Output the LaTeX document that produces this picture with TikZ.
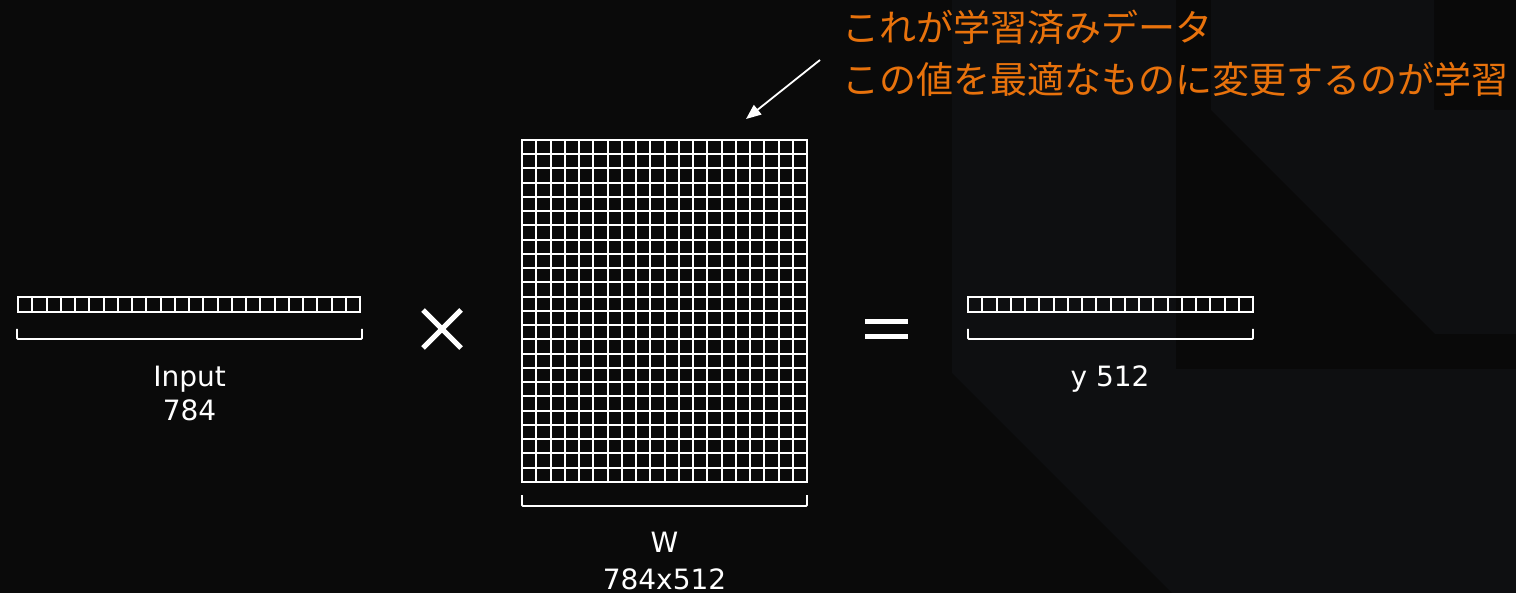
\documentclass[tikz,border=0pt]{standalone}
\usepackage{fontspec}
\setmainfont{DejaVu Sans}
\newfontfamily\jpfont{Noto Sans CJK JP}
\usetikzlibrary{arrows.meta}
\definecolor{bgbase}{HTML}{0A0A0A}
\definecolor{bglight}{HTML}{0E0F11}
\definecolor{bgdark}{HTML}{090909}
\definecolor{accent}{HTML}{E8720C}
\begin{document}
\begin{tikzpicture}[x=1pt,y=-1pt,
  cellline/.style={white, line width=2pt},
  bar/.style={draw=white, line width=2pt, inner sep=0pt},
  bracketline/.style={white, line width=1.8pt, rounded corners=1pt},
  lbl/.style={text=white, font=\fontsize{28}{34}\selectfont, inner sep=0pt, anchor=base},
  note/.style={text=accent, font=\jpfont\fontsize{37}{44}\selectfont, inner sep=0pt, anchor=base west},
  op/.style={white, line width=5pt},
]
\useasboundingbox (0,0) rectangle (1516,593);
% background
\fill[bgbase] (0,0) rectangle (1516,593);
\fill[bglight] (952,0) -- (1516,0) -- (1516,593) -- (1172,593) -- (952,373) -- cycle;
\fill[bgdark] (1176,0) rectangle (1516,369);
\fill[bglight] (1211,0) -- (1434,0) -- (1434,110) -- (1516,110) -- (1516,334) -- (1435,334) -- (1211,110) -- cycle;

% input vector
\node[bar, minimum width=342pt, minimum height=15pt] (inp) at (189,304.8) {};
\foreach \i in {1,...,23} \draw[cellline] (18+\i*14.25,297.3) -- (18+\i*14.25,312.3);
\draw[bracketline] (17,329) -- (17,339) -- (362,339) -- (362,329);
\node[lbl] (inlabel) at (189.5,387) {Input};
\node[lbl] (innum) at (189.5,421) {784};

% times
\draw[op] (423,310) -- (461,348);
\draw[op] (423,348) -- (461,310);

% weight matrix
\node[bar, minimum width=285pt, minimum height=342pt] (W) at (664.5,311) {};
\foreach \i in {1,...,19} \draw[cellline] (522+\i*14.25,140) -- (522+\i*14.25,482);
\foreach \j in {1,...,23} \draw[cellline] (522,140+\j*14.25) -- (807,140+\j*14.25);
\draw[bracketline] (522,495) -- (522,506) -- (807,506) -- (807,495);
\node[lbl] (wlabel) at (664.5,552) {W};
\node[lbl] (wdim) at (664.5,589) {784x512};

% equals
\draw[op] (865,321.5) -- (908,321.5);
\draw[op] (865,336.7) -- (908,336.7);

% output vector
\node[bar, minimum width=285pt, minimum height=15pt] (out) at (1110.5,304.8) {};
\foreach \i in {1,...,19} \draw[cellline] (968+\i*14.25,297.3) -- (968+\i*14.25,312.3);
\draw[bracketline] (968,329) -- (968,339) -- (1253,339) -- (1253,329);
\node[lbl] (ylabel) at (1110,387) {y 512};

% note
\node[note] (note1) at (842,42) {これが学習済みデータ};
\node[note] (note2) at (842,94) {この値を最適なものに変更するのが学習};
\coordinate (arrtail) at (820,60);
\coordinate (arrtip) at (746,119);
\draw[white, line width=1.8pt, -{Triangle[length=15pt,width=12pt]}] (arrtail) -- (arrtip);
\end{tikzpicture}
\end{document}
